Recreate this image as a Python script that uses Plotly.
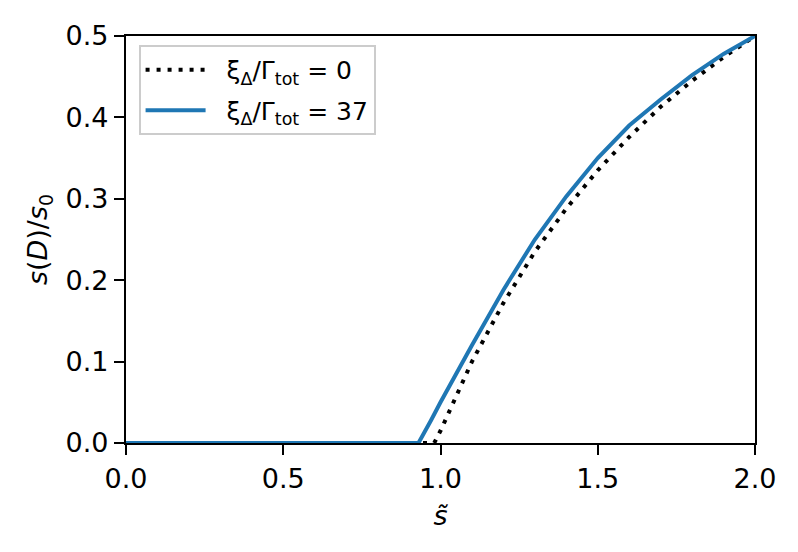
import plotly.graph_objects as go

# xi/Gamma_tot = 0 (dotted)
s_dot = [0.0, 0.98, 1.0, 1.05, 1.1, 1.2, 1.3, 1.4, 1.5, 1.6, 1.7, 1.8, 1.9, 2.0]
y_dot = [0.0, 0.0, 0.015, 0.058, 0.1, 0.172, 0.235, 0.288, 0.335, 0.376, 0.413, 0.445, 0.474, 0.5]

# xi/Gamma_tot = 37 (solid blue)
s_blue = [0.0, 0.93, 0.97, 1.0, 1.1, 1.2, 1.3, 1.4, 1.5, 1.6, 1.7, 1.8, 1.9, 2.0]
y_blue = [0.0, 0.0, 0.028, 0.05, 0.12, 0.188, 0.25, 0.303, 0.35, 0.39, 0.422, 0.452, 0.478, 0.5]

x_ticks = [0.0, 0.5, 1.0, 1.5, 2.0]
y_ticks = [0.0, 0.1, 0.2, 0.3, 0.4, 0.5]

FS = 27
fig = go.Figure()
fig.add_trace(go.Scatter(x=s_dot, y=y_dot, mode="lines", legendgroup="a",
                         line=dict(color="black", width=4, dash="4px,7px"),
                         name="\u00a0\u00a0ξ<sub>Δ</sub>/Γ<sub>tot</sub> = 0"))
fig.add_trace(go.Scatter(x=s_blue, y=y_blue, mode="lines", legendgroup="b",
                         line=dict(color="#1f77b4", width=4),
                         name="\u00a0\u00a0ξ<sub>Δ</sub>/Γ<sub>tot</sub> = 37"))

axis_common = dict(showline=True, linecolor="black", linewidth=2.2, mirror=True,
                   ticks="outside", ticklen=10, tickwidth=2.2, tickcolor="black",
                   showgrid=False, zeroline=False, tickfont=dict(size=FS, color="black"),
                   tickformat=".1f")

fig.update_xaxes(range=[0, 2], tickvals=x_ticks,
                 title=dict(text="<i>s̃</i>", font=dict(size=FS), standoff=14),
                 **axis_common)
fig.update_yaxes(range=[0, 0.5], tickvals=y_ticks,
                 title=dict(text="<i>s</i>(<i>D</i>)/<i>s</i><sub>0</sub>", font=dict(size=FS), standoff=10),
                 **axis_common)

fig.update_layout(
    width=798, height=552,
    margin=dict(l=118, r=51, t=24, b=117),
    paper_bgcolor="white", plot_bgcolor="white",
    font=dict(family="DejaVu Sans", size=FS, color="black"),
    showlegend=True,
    legend=dict(x=0.02, y=0.978, xanchor="left", yanchor="top",
                bgcolor="rgba(255,255,255,0.8)", bordercolor="#cccccc", borderwidth=2,
                font=dict(size=25), itemwidth=60, tracegroupgap=5),
)

fig.write_html("out.html")
